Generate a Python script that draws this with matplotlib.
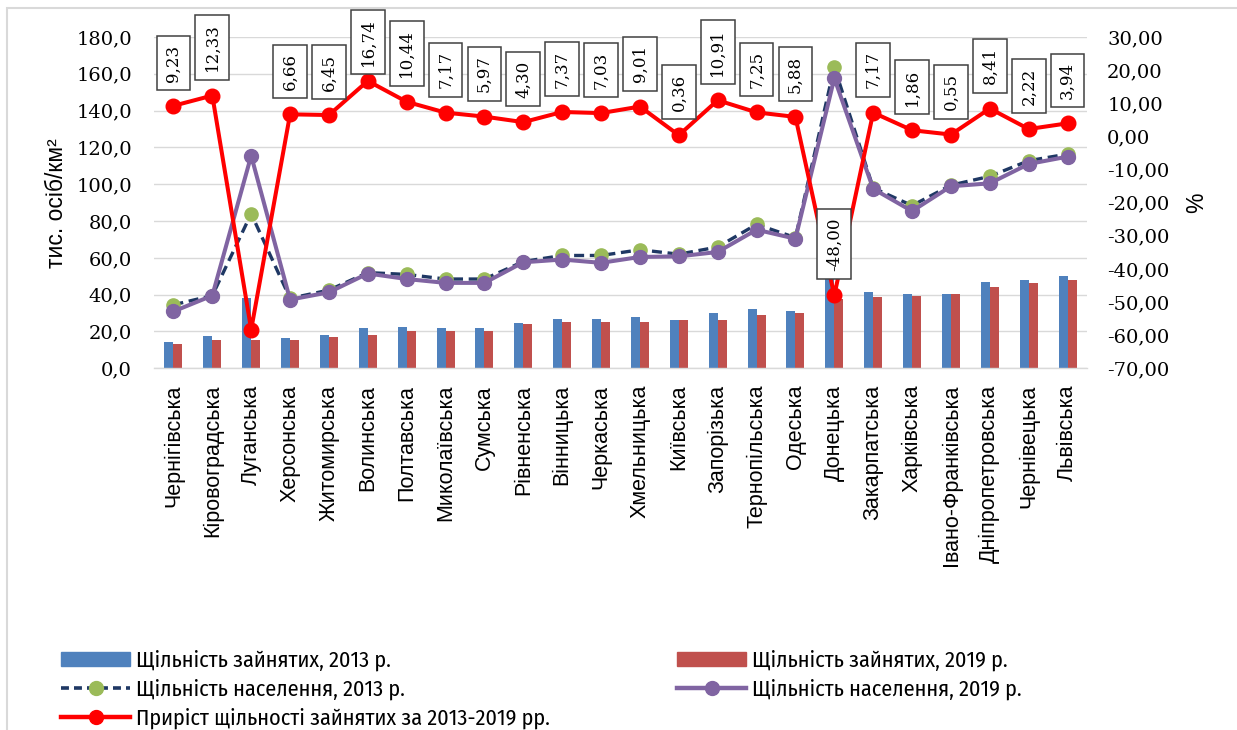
import matplotlib
matplotlib.use("Agg")
import matplotlib.pyplot as plt
from matplotlib.lines import Line2D
from matplotlib.patches import Patch, Rectangle
from matplotlib.ticker import FuncFormatter
from matplotlib import font_manager
from matplotlib.ft2font import FT2Font
import numpy as np

regions = ["Чернігівська", "Кіровоградська", "Луганська", "Херсонська", "Житомирська",
           "Волинська", "Полтавська", "Миколаївська", "Сумська", "Рівненська",
           "Вінницька", "Черкаська", "Хмельницька", "Київська", "Запорізька",
           "Тернопільська", "Одеська", "Донецька", "Закарпатська", "Харківська",
           "Івано-Франківська", "Дніпропетровська", "Чернівецька", "Львівська"]

employed_2013 = [14.5, 17.3, 38.0, 16.7, 18.2, 21.8, 22.4, 21.8, 21.8, 24.5, 26.7, 26.7,
                 28.0, 26.5, 29.8, 32.0, 31.2, 70.0, 41.5, 40.3, 40.3, 46.9, 47.8, 50.0]
employed_2019 = [13.3, 15.5, 15.5, 15.5, 16.9, 18.2, 20.4, 20.4, 20.4, 24.0, 24.9, 24.9,
                 24.9, 26.5, 26.5, 29.2, 29.8, 37.9, 38.8, 39.5, 40.3, 43.9, 46.4, 47.8]
population_2013 = [34.5, 39.5, 84.0, 38.0, 42.5, 52.0, 51.0, 48.5, 48.5, 58.0, 61.3, 61.3,
                   64.4, 62.0, 65.9, 78.2, 71.0, 163.7, 98.0, 88.4, 99.5, 104.3, 112.8, 116.4]
population_2019 = [30.9, 39.5, 115.5, 37.3, 41.3, 51.5, 48.5, 46.4, 46.4, 57.6, 59.1, 57.3,
                   60.5, 60.8, 63.2, 75.3, 70.4, 157.6, 97.5, 85.4, 98.9, 100.5, 111.0, 115.0]
growth = [9.23, 12.33, -58.3, 6.66, 6.45, 16.74, 10.44, 7.17, 5.97, 4.30, 7.37, 7.03,
          9.01, 0.36, 10.91, 7.25, 5.88, -48.00, 7.17, 1.86, 0.55, 8.41, 2.22, 3.94]
unlabelled_regions = ["Луганська"]

left_ticks = list(range(0, 181, 20))
right_ticks = list(range(-70, 31, 10))

series_names = ["Щільність зайнятих, 2013 р.", "Щільність зайнятих, 2019 р.",
                "Щільність населення, 2013 р.", "Щільність населення, 2019 р.",
                "Приріст щільності зайнятих за 2013-2019 рр."]

SANS = "Liberation Sans"
SERIF = "DejaVu Serif"


def covers_cyrillic(path):
    try:
        cmap = FT2Font(path).get_charmap()
    except Exception:
        return False
    return all(ord(c) in cmap for c in "ЩПрілзатхнс")


# legend font: a narrow sans face with Cyrillic if one is installed
narrow = None
for f in font_manager.fontManager.ttflist:
    if (("Narrow" in f.name or "Condensed" in f.name) and "Mono" not in f.name
            and "Serif" not in f.name and f.style == "normal"
            and f.weight in (400, "normal", "regular") and covers_cyrillic(f.fname)):
        narrow = f.name
        break
if narrow is not None:
    LEG_FONT, LEG_SIZE, LEG_SPACING = narrow, 16.0, 0.33
else:
    LEG_FONT, LEG_SIZE, LEG_SPACING = SANS, 12.8, 0.62

BLUE = "#4F81BD"
RED_BAR = "#C0504D"
NAVY = "#1F3864"
GREEN = "#9BBB59"
PURPLE = "#8064A2"
RED = "#FF0000"

W, H = 1237, 730
fig = plt.figure(figsize=(W / 100, H / 100), dpi=100)
fig.patch.set_facecolor("white")

ax = fig.add_axes([154 / W, (H - 368.3) / H, 933 / W, 331.3 / H])
x = np.arange(len(regions))
bw = 0.23
ax.bar(x - bw / 2, employed_2013, width=bw, color=BLUE, zorder=2)
ax.bar(x + bw / 2, employed_2019, width=bw, color=RED_BAR, zorder=2)
ax.plot(x, population_2013, color=NAVY, lw=2.4, dashes=(3.0, 1.7), marker="o",
        markersize=9.5, markerfacecolor=GREEN, markeredgecolor=GREEN, zorder=3)
ax.plot(x, population_2019, color=PURPLE, lw=2.9, marker="o", markersize=10,
        markerfacecolor=PURPLE, markeredgecolor=PURPLE, zorder=4)

ax.set_xlim(-0.5, len(regions) - 0.5)
ax.set_ylim(0, 180)
ax.set_yticks(left_ticks)
ax.yaxis.set_major_formatter(FuncFormatter(lambda v, p: f"{v:.1f}".replace(".", ",")))
ax.grid(axis="y", color="#D9D9D9", lw=1.0, zorder=0)
ax.set_axisbelow(True)
for s in ["top", "left", "right"]:
    ax.spines[s].set_visible(False)
ax.spines["bottom"].set_color("#D9D9D9")
ax.spines["bottom"].set_linewidth(1.0)
ax.set_xticks(x)
ax.set_xticklabels(regions, rotation=90, fontfamily=SANS, fontsize=15.5, va="top", ha="center")
ax.tick_params(axis="x", length=0, pad=12)
ax.tick_params(axis="y", length=0, pad=16, labelsize=14)
for t in ax.get_yticklabels():
    t.set_fontfamily(SERIF)
ax.set_ylabel("тис. осіб/км²", fontfamily=SANS, fontsize=16.5)
ax.yaxis.set_label_coords((68 - 154) / 933, 0.5)

ax2 = ax.twinx()
ax2.plot(x, growth, color=RED, lw=2.9, marker="o", markersize=10.5,
         markerfacecolor=RED, markeredgecolor=RED, zorder=5)
ax2.set_ylim(-70, 30)
ax2.set_yticks(right_ticks)
ax2.yaxis.set_major_formatter(FuncFormatter(lambda v, p: f"{v:.2f}".replace(".", ",")))
ax2.tick_params(axis="y", length=0, pad=14.5, labelsize=14)
for t in ax2.get_yticklabels():
    t.set_fontfamily(SERIF)
for s in ["top", "left", "right", "bottom"]:
    ax2.spines[s].set_visible(False)
ax2.set_ylabel("%", fontfamily=SANS, fontsize=16.5, rotation=90)
ax2.yaxis.set_label_coords((1185 - 154) / 933, 0.5)

LABEL_OFFSET = 17.5  # points above the marker
annotations = []
for xi, name, g in zip(x, regions, growth):
    if name in unlabelled_regions:
        continue
    ann = ax2.annotate(f"{g:.2f}".replace(".", ","), (xi, g), xytext=(0, LABEL_OFFSET),
                       textcoords="offset points", rotation=90, rotation_mode="anchor",
                       ha="left", va="center",
                       fontfamily=SERIF, fontsize=12, color="black", zorder=10,
                       annotation_clip=False,
                       bbox=dict(boxstyle="square,pad=0.5", fc="white", ec="#404040", lw=1.1))
    annotations.append(ann)

handles_a = [Patch(color=BLUE),
             Line2D([], [], color=NAVY, lw=2.6, dashes=(2.2, 1.4), marker="o", markersize=10,
                    markerfacecolor=GREEN, markeredgecolor=GREEN),
             Line2D([], [], color=RED, lw=3.2, marker="o", markersize=10,
                    markerfacecolor=RED, markeredgecolor=RED)]
labels_a = [series_names[0], series_names[2], series_names[4]]
handles_b = [Patch(color=RED_BAR),
             Line2D([], [], color=PURPLE, lw=3.2, marker="o", markersize=10,
                    markerfacecolor=PURPLE, markeredgecolor=PURPLE)]
labels_b = [series_names[1], series_names[3]]

px = LEG_SIZE * 100 / 72
leg_kw = dict(frameon=False, prop={"family": [LEG_FONT, SANS, "DejaVu Sans"], "size": LEG_SIZE},
              handlelength=69 / px, handleheight=13 / px, handletextpad=6 / px,
              labelspacing=LEG_SPACING, borderpad=0, borderaxespad=0, loc="upper left")
fig.legend(handles_a, labels_a, bbox_to_anchor=(61 / W, (H - 650) / H), **leg_kw)
fig.legend(handles_b, labels_b, bbox_to_anchor=(677 / W, (H - 650) / H), **leg_kw)

fig.add_artist(Rectangle((7 / W, -0.05), 1.2, (H - 8) / H + 0.05, transform=fig.transFigure,
                         fill=False, ec="#D9D9D9", lw=1.5))

# keep data-label boxes inside the chart area (as the spreadsheet does)
fig.canvas.draw()
top_limit = H - 10
for ann in annotations:
    bb = ann.get_bbox_patch().get_window_extent()
    if bb.y1 > top_limit:
        shift_px = bb.y1 - top_limit
        ann.xyann = (0, LABEL_OFFSET - shift_px * 72 / 100)

fig.savefig("out.png", dpi=100, facecolor="white")
